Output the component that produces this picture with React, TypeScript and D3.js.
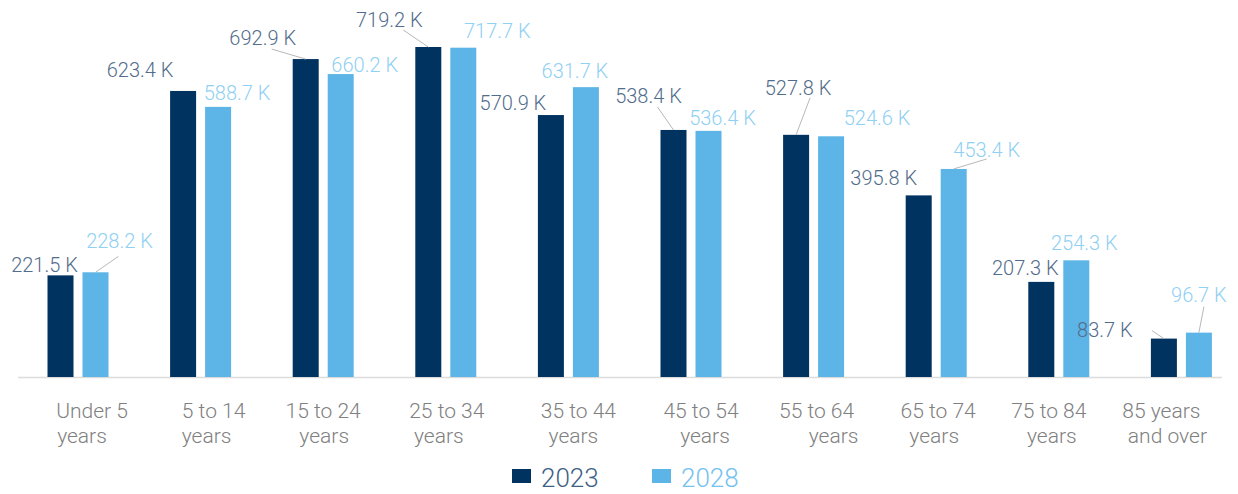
import React, { useEffect, useRef } from 'react';
import * as d3 from 'd3';

// age groups, two lines each as printed under the axis
const categories = ['Under 5 years', '5 to 14 years', '15 to 24 years', '25 to 34 years', '35 to 44 years',
  '45 to 54 years', '55 to 64 years', '65 to 74 years', '75 to 84 years', '85 years and over'];
const tickLines = [['Under 5', 'years'], ['5 to 14', 'years'], ['15 to 24', 'years'], ['25 to 34', 'years'],
  ['35 to 44', 'years'], ['45 to 54', 'years'], ['55 to 64', 'years'], ['65 to 74', 'years'],
  ['75 to 84', 'years'], ['85 years', 'and over']];
const series = ['2023', '2028'];
const values2023 = [221.5, 623.4, 692.9, 719.2, 570.9, 538.4, 527.8, 395.8, 207.3, 83.7];
const values2028 = [228.2, 588.7, 660.2, 717.7, 631.7, 536.4, 524.6, 453.4, 254.3, 96.7];

// label placement (relative to bar top centre), leader line ends, tick line shifts
const labelOffsets = {
  '2023': [[-16, -3], [-43, -14], [-43, -14], [-39, -20], [-38, -5], [-25, -27], [2, -40], [-35, -10], [-16, -7], [-59, -2]],
  '2028': [[24, -24], [19, -7], [24, -2], [34, -10], [-11, -9], [14, -6], [46, -11], [33, -12], [8, -10], [0, -31]],
};
const leaders = {
  '2023': [null, null, [-34, -10], [-25, -17], null, [-16, -23], [14, -37], null, null, [-12, -8]],
  '2028': [[23, -16], null, null, null, null, null, null, [33, -10], null, [5, -26]],
};
const tickShift = [[14, 4], [13, 6], [0, 1], [1, -7], [10, 5], [10, 14], [3, 20], [2, -2], [-10, -7], [-20, -14]];

const colors = { '2023': '#003360', '2028': '#5cb5e6' };
const labelColors = { '2023': '#526c8b', '2028': '#8fd0f3' };
const legendColors = { '2023': '#3e5f86', '2028': '#74c2ef' };

const App: React.FC = () => {
  const ref = useRef<SVGSVGElement>(null);

  useEffect(() => {
    if (!ref.current) return;
    const width = 1238;
    const height = 494;
    const baseline = 377;

    const svg = d3.select(ref.current);
    svg.selectAll('*').remove();
    svg.attr('width', width).attr('height', height);

    const x0 = d3.scaleBand().domain(categories).range([16.7, 1242.7]).padding(0);
    const x1 = d3.scaleBand().domain(series).range([0, 61]).paddingInner(9 / 35);
    const y = d3.scaleLinear().domain([0, 719.2]).range([baseline, 47]);

    const rows = categories.map((c, i) => ({ cat: c, i, v: { '2023': values2023[i], '2028': values2028[i] } }));

    svg.append('line')
      .attr('x1', 18).attr('x2', 1222)
      .attr('y1', baseline + 0.5).attr('y2', baseline + 0.5)
      .attr('stroke', '#dcdcdc').attr('stroke-width', 1.5);

    const groups = svg.append('g')
      .selectAll('g')
      .data(rows)
      .join('g')
      .attr('transform', d => `translate(${x0(d.cat)! + x0.bandwidth() / 2 - 30.5},0)`);

    groups.selectAll('rect')
      .data(d => series.map(s => ({ s, v: d.v[s] })))
      .join('rect')
      .attr('x', d => x1(d.s)!)
      .attr('width', x1.bandwidth())
      .attr('y', d => y(d.v))
      .attr('height', d => baseline - y(d.v))
      .attr('fill', d => colors[d.s]);

    // leader lines and value labels
    const labels = svg.append('g')
      .attr('font-family', 'Roboto, sans-serif').attr('font-size', 20).attr('font-weight', 300);
    rows.forEach(r => {
      series.forEach(s => {
        const cx = x0(r.cat)! + x0.bandwidth() / 2 - 30.5 + x1(s)! + x1.bandwidth() / 2;
        const top = y(r.v[s]);
        const ld = leaders[s][r.i];
        if (ld) {
          labels.append('line')
            .attr('x1', cx).attr('y1', top)
            .attr('x2', cx + ld[0]).attr('y2', top + ld[1])
            .attr('stroke', '#b8b8b8').attr('stroke-width', 1);
        }
        const off = labelOffsets[s][r.i];
        labels.append('text')
          .attr('x', cx + off[0]).attr('y', top + off[1])
          .attr('text-anchor', 'middle')
          .attr('fill', labelColors[s])
          .text(`${d3.format('.1f')(r.v[s])} K`);
      });
    });

    // category labels
    const ticks = svg.append('g')
      .attr('font-family', 'Roboto, sans-serif').attr('font-size', 21).attr('font-weight', 300)
      .attr('fill', '#808080');
    rows.forEach(r => {
      const cx = x0(r.cat)! + x0.bandwidth() / 2;
      tickLines[r.i].forEach((line, j) => {
        ticks.append('text')
          .attr('x', cx + tickShift[r.i][j])
          .attr('y', 418 + j * 25)
          .attr('text-anchor', 'middle')
          .text(line);
      });
    });

    // legend
    const legend = svg.append('g')
      .attr('font-family', 'Roboto, sans-serif').attr('font-size', 26).attr('font-weight', 300);
    const legendX = { '2023': 512, '2028': 652 };
    series.forEach(s => {
      legend.append('rect')
        .attr('x', legendX[s]).attr('y', 469)
        .attr('width', 19).attr('height', 14)
        .attr('fill', colors[s]);
      legend.append('text')
        .attr('x', legendX[s] + 29).attr('y', 487)
        .attr('fill', legendColors[s])
        .text(s);
    });
  }, []);

  return (
    <div style={{ position: 'absolute', left: 0, top: 0, background: '#fff' }}>
      <svg ref={ref}></svg>
    </div>
  );
};

export default App;
